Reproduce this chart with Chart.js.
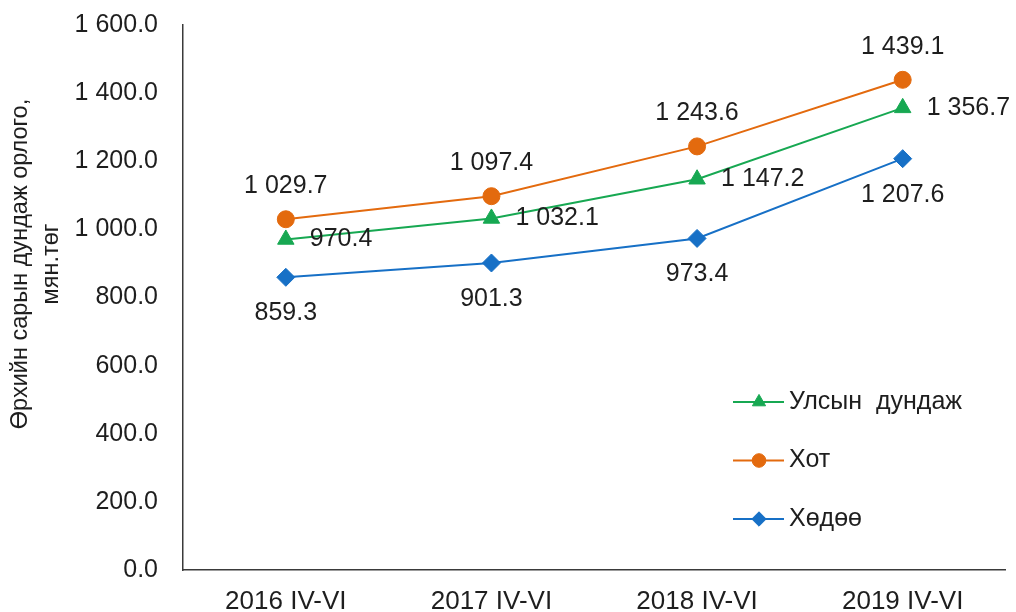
<!DOCTYPE html>
<html>
<head>
<meta charset="utf-8">
<script src="https://cdn.jsdelivr.net/npm/chart.js@4.4.0/dist/chart.umd.min.js"></script>
<style>
    html, body { margin: 0; padding: 0; background: #fff; }
    canvas { display: block; }
</style>
</head>
<body>
<canvas id="chart" width="1016" height="612"></canvas>
<script>
// chart data
const periods = ['2016 IV-VI', '2017 IV-VI', '2018 IV-VI', '2019 IV-VI'];
const national = [970.4, 1032.1, 1147.2, 1356.7];
const urban = [1029.7, 1097.4, 1243.6, 1439.1];
const rural = [859.3, 901.3, 973.4, 1207.6];
const seriesNames = ['Улсын  дундаж', 'Хот', 'Хөдөө'];
const yTitle = ['Өрхийн сарын дундаж орлого,', 'мян.төг'];
const yMin = 0, yMax = 1600, yStep = 200;

const FONT = '"Liberation Sans", Arial, sans-serif';
const TEXT = '#1e1e1e';

function fmt(v) {
    const parts = v.toFixed(1).split('.');
    return parts[0].replace(/\B(?=(\d{3})+(?!\d))/g, ' ') + '.' + parts[1];
}

// value labels next to each point
const valueLabels = {
    id: 'valueLabels',
    afterDatasetsDraw(chart) {
        const ctx = chart.ctx;
        ctx.save();
        ctx.font = '25px ' + FONT;
        ctx.fillStyle = TEXT;
        ctx.textBaseline = 'middle';
        chart.data.datasets.forEach((ds, i) => {
            const meta = chart.getDatasetMeta(i);
            meta.data.forEach((pt, j) => {
                const text = fmt(ds.data[j]);
                if (ds.labelPos === 'top') {
                    ctx.textAlign = 'center';
                    ctx.fillText(text, pt.x, pt.y - 33);
                } else if (ds.labelPos === 'bottom') {
                    ctx.textAlign = 'center';
                    ctx.fillText(text, pt.x, pt.y + 36);
                } else {
                    ctx.textAlign = 'left';
                    ctx.fillText(text, pt.x + 24, pt.y);
                }
            });
        });
        ctx.restore();
    }
};

// y axis title, two lines rotated
const axisTitle = {
    id: 'axisTitle',
    afterDraw(chart) {
        const ctx = chart.ctx;
        ctx.save();
        ctx.font = '23.5px ' + FONT;
        ctx.fillStyle = TEXT;
        ctx.textAlign = 'center';
        ctx.textBaseline = 'middle';
        ctx.translate(21, 264);
        ctx.rotate(-Math.PI / 2);
        ctx.fillText(yTitle[0], 0, 0);
        ctx.fillText(yTitle[1], 0, 31);
        ctx.restore();
    }
};

// vertical legend inside the plot
const sideLegend = {
    id: 'sideLegend',
    afterDraw(chart) {
        const ctx = chart.ctx;
        const x0 = 733, y0 = 402, gap = 58.5;
        ctx.save();
        chart.data.datasets.forEach((ds, i) => {
            const y = y0 + i * gap;
            ctx.strokeStyle = ds.borderColor;
            ctx.lineWidth = ds.borderWidth;
            ctx.beginPath();
            ctx.moveTo(x0, y);
            ctx.lineTo(x0 + 51, y);
            ctx.stroke();
            ctx.fillStyle = ds.pointBackgroundColor;
            ctx.strokeStyle = ds.pointBorderColor;
            ctx.lineWidth = 1;
            Chart.helpers.drawPoint(ctx, {
                pointStyle: ds.pointStyle,
                radius: ds.pointRadius * 0.8,
                rotation: 0,
                borderWidth: 1
            }, x0 + 26, y);
            ctx.font = '25px ' + FONT;
            ctx.fillStyle = TEXT;
            ctx.textAlign = 'left';
            ctx.textBaseline = 'middle';
            ctx.fillText(ds.label, x0 + 56, y);
        });
        ctx.restore();
    }
};

function series(label, data, color, style, radius, labelPos) {
    return {
        label: label,
        data: data,
        borderColor: color,
        backgroundColor: color,
        borderWidth: 2,
        pointStyle: style,
        pointRadius: radius,
        pointBackgroundColor: color,
        pointBorderColor: color,
        pointBorderWidth: 1,
        tension: 0,
        labelPos: labelPos
    };
}

new Chart(document.getElementById('chart').getContext('2d'), {
    type: 'line',
    data: {
        labels: periods,
        datasets: [
            series(seriesNames[0], national, '#17a852', 'triangle', 9.5, 'right'),
            series(seriesNames[1], urban, '#e36a0e', 'circle', 8.5, 'top'),
            series(seriesNames[2], rural, '#1770c6', 'rectRot', 9, 'bottom')
        ]
    },
    options: {
        responsive: false,
        animation: false,
        layout: { padding: { left: 0, top: 25, right: 10, bottom: 0 } },
        plugins: {
            legend: { display: false },
            tooltip: { enabled: false }
        },
        scales: {
            x: {
                offset: true,
                grid: { display: false, drawTicks: false },
                border: { display: true, color: '#3a3a3a', width: 1.5 },
                ticks: {
                    color: TEXT,
                    font: { family: FONT, size: 26 },
                    padding: 16,
                    maxRotation: 0
                },
                afterFit(scale) {
                    scale.height = 42;
                    scale.paddingLeft = 0;
                    scale.paddingRight = 0;
                }
            },
            y: {
                min: yMin,
                max: yMax,
                grid: { display: false, drawTicks: false },
                border: { display: true, color: '#3a3a3a', width: 1.5 },
                ticks: {
                    stepSize: yStep,
                    color: TEXT,
                    font: { family: FONT, size: 25 },
                    padding: 25,
                    callback: v => fmt(v)
                },
                afterFit(scale) {
                    scale.width = 183;
                    scale.paddingTop = 0;
                    scale.paddingBottom = 0;
                }
            }
        }
    },
    plugins: [valueLabels, axisTitle, sideLegend]
});
</script>
</body>
</html>
